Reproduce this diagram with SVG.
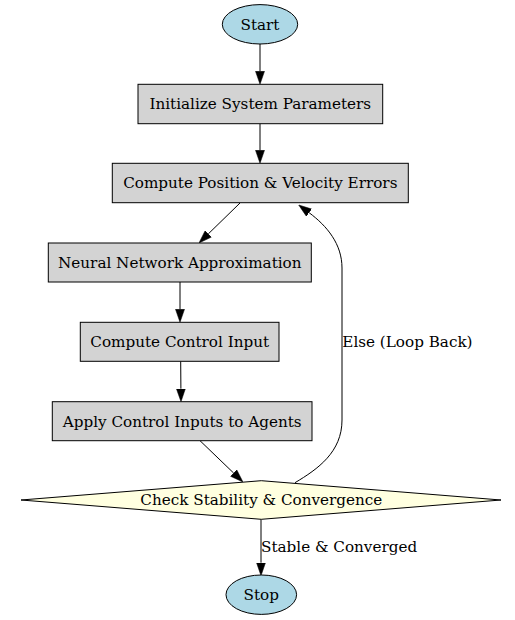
<svg xmlns="http://www.w3.org/2000/svg" width="515" height="620" viewBox="0 0 515 620">
<style>
text{font-family:"DejaVu Serif",serif;font-size:15.2px;fill:#000}
.n{text-anchor:middle}
.box{fill:#d3d3d3;stroke:#000;stroke-width:1}
.ell{fill:#add8e6;stroke:#000;stroke-width:1}
.dia{fill:#ffffe0;stroke:#000;stroke-width:1}
.e{fill:none;stroke:#000;stroke-width:1;marker-end:url(#ah)}
</style>
<defs>
<marker id="ah" viewBox="0 0 13 10" refX="0" refY="5" markerWidth="13" markerHeight="10" markerUnits="userSpaceOnUse" orient="auto">
<path d="M0,0.5 L13,5 L0,9.5 z" fill="#000" stroke="#000" stroke-width="0.5"/>
</marker>
</defs>
<rect width="515" height="620" fill="#fff"/>
<g id="edges">
<path class="e" d="M260,44 L260,71.3"/>
<path class="e" d="M260,123.7 L260,150.3"/>
<path class="e" d="M240,203 L208.3,233.9"/>
<path class="e" d="M180,282 L180,309.3"/>
<path class="e" d="M180.7,361.3 L180.9,388.7"/>
<path class="e" d="M200,440.7 L233.6,473"/>
<path class="e" d="M261,519.3 L261,562.7"/>
<path class="e" d="M295,482.7 C318,469 342,452 342,420 L342,268 C342,244 327,226 309.1,212.7"/>
<text x="342.3" y="347">Else (Loop Back)</text>
<text x="261" y="552">Stable &amp; Converged</text>
</g>
<g id="start">
<ellipse class="ell" cx="260" cy="24.3" rx="37.7" ry="19.7"/>
<text class="n" x="260" y="29.6">Start</text>
</g>
<g id="init">
<rect class="box" x="138" y="84.3" width="244.7" height="39.4"/>
<text class="n" x="260.3" y="109.3">Initialize System Parameters</text>
</g>
<g id="compute">
<rect class="box" x="112.3" y="163.3" width="296" height="39.4"/>
<text class="n" x="260.3" y="188.3">Compute Position &amp; Velocity Errors</text>
</g>
<g id="neural">
<rect class="box" x="48.3" y="243" width="263" height="39"/>
<text class="n" x="179.8" y="267.8">Neural Network Approximation</text>
</g>
<g id="control">
<rect class="box" x="80.3" y="322.3" width="198.7" height="39"/>
<text class="n" x="179.7" y="347.1">Compute Control Input</text>
</g>
<g id="apply">
<rect class="box" x="52.3" y="401.7" width="259.7" height="39"/>
<text class="n" x="182.2" y="426.5">Apply Control Inputs to Agents</text>
</g>
<g id="check">
<polygon class="dia" points="261.3,480.7 501,500 261.3,519.3 21,500"/>
<text class="n" x="261.3" y="505.3">Check Stability &amp; Convergence</text>
</g>
<g id="stop">
<ellipse class="ell" cx="261.3" cy="594.7" rx="35.3" ry="19.7"/>
<text class="n" x="261.3" y="600">Stop</text>
</g>
</svg>
